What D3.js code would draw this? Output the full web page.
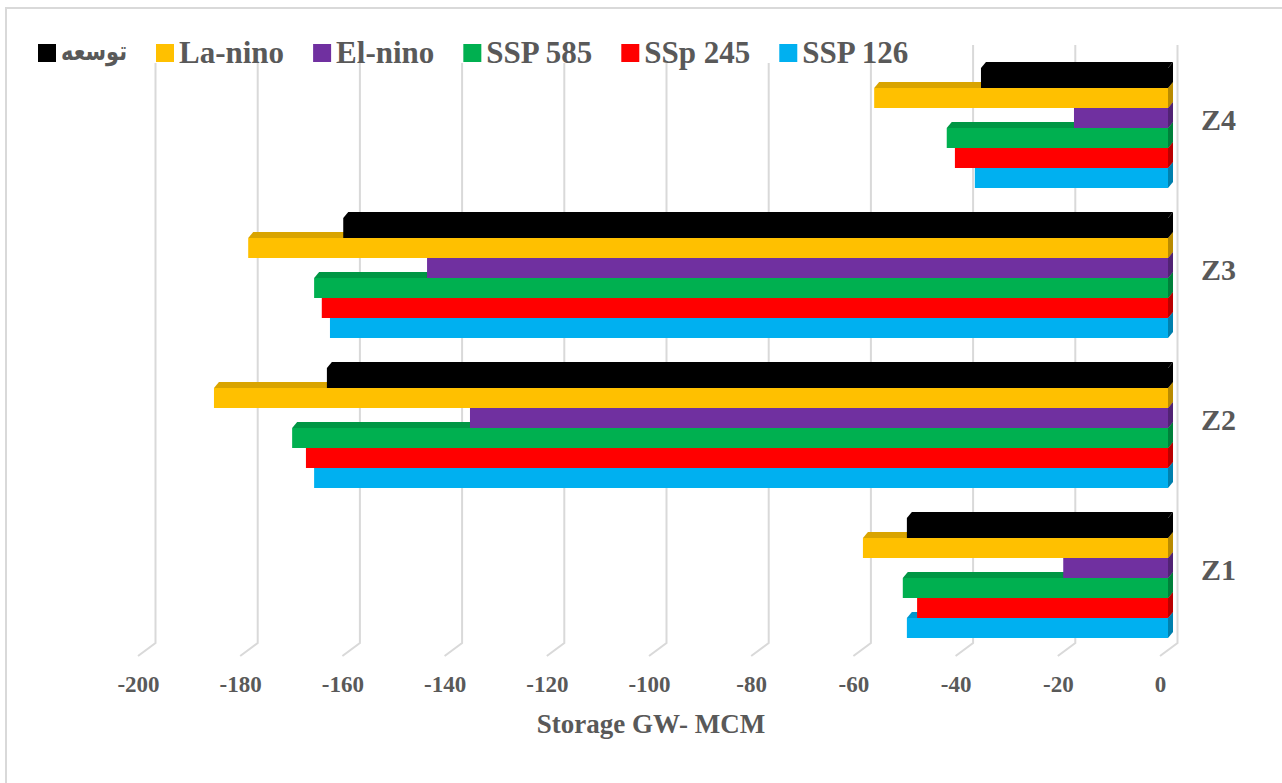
<!DOCTYPE html>
<html>
<head>
<meta charset="utf-8">
<script src="https://cdn.jsdelivr.net/npm/d3@7"></script>
<style>
  body { margin: 0; background: #fff; }
  text { font-family: "Liberation Serif", "Times New Roman", "DejaVu Sans", serif; font-weight: bold; fill: #595959; }
</style>
</head>
<body>
<div id="chart"></div>
<script>
// zones, top of the chart is Z4
var categories = ["Z1", "Z2", "Z3", "Z4"];

// series in Excel order (first series drawn at the bottom of each group)
var seriesNames = ["SSP 126", "SSp 245", "SSP 585", "El-nino", "La-nino", "توسعه"];
var seriesColors = ["#00B0F0", "#FF0000", "#00B050", "#7030A0", "#FFC000", "#000000"];

// values per zone Z1..Z4
var ssp126 = [-51.1, -167.1, -164.0, -37.8];
var ssp245 = [-49.1, -168.7, -165.6, -41.7];
var ssp585 = [-51.9, -171.4, -167.1, -43.3];
var elnino = [-20.5, -136.6, -145.0, -18.4];
var lanino = [-59.7, -186.7, -180.0, -57.5];
var tosee  = [-51.1, -164.6, -161.4, -36.6];
var seriesValues = [ssp126, ssp245, ssp585, elnino, lanino, tosee];

var tickValues = [-200, -180, -160, -140, -120, -100, -80, -60, -40, -20, 0];
var axisTitle = "Storage GW- MCM";

var width = 1282, height = 783;

var svg = d3.select("#chart")
  .append("svg")
    .attr("width", width)
    .attr("height", height);

// chart border
svg.append("rect")
  .attr("x", 6).attr("y", 8)
  .attr("width", 1290).attr("height", 800)
  .attr("fill", "none")
  .attr("stroke", "#d9d9d9")
  .attr("stroke-width", 2);

// 3D: back wall, bar plane and front edge share the same slope
var xBack  = d3.scaleLinear().domain([-200, 0]).range([155.5, 1177.5]);
var xBar   = d3.scaleLinear().domain([-200, 0]).range([146, 1168]);
var xFront = d3.scaleLinear().domain([-200, 0]).range([138, 1160]);
var wallTop = 45, wallBottom = 643, floorFront = 656;
var depthX = 5, depthY = -6;

// gridlines on the back wall + floor diagonals
svg.append("g")
  .selectAll("path")
  .data(tickValues)
  .enter()
  .append("path")
    .attr("d", function(d) {
      return "M" + xBack(d) + "," + wallTop + "V" + wallBottom + "L" + xFront(d) + "," + floorFront;
    })
    .attr("fill", "none")
    .attr("stroke", "#d9d9d9")
    .attr("stroke-width", 2);

// Y: zones
var y = d3.scaleBand()
  .domain(categories.slice().reverse())
  .range([53, 653])
  .paddingInner(0.2)
  .paddingOuter(0.1);

var ySub = d3.scaleBand()
  .domain(seriesNames.slice().reverse())
  .range([0, y.bandwidth()]);

// bars: for each zone draw bottom series first so upper bars cover the top faces
categories.forEach(function(cat, ci) {
  var g = svg.append("g").attr("transform", "translate(0," + y(cat) + ")");
  seriesNames.forEach(function(name, si) {
    var v = seriesValues[si][ci];
    var col = d3.color(seriesColors[si]);
    var x0 = xBar(v), x1 = xBar(0);
    var y0 = ySub(name), h = ySub.bandwidth();
    var top = si === 5 ? col : col.darker(0.45);
    var side = si === 5 ? col : col.darker(0.9);

    // top face
    g.append("path")
      .attr("d", "M" + x0 + "," + y0 + "L" + (x0 + depthX) + "," + (y0 + depthY) +
                 "L" + (x1 + depthX) + "," + (y0 + depthY) + "L" + x1 + "," + y0 + "Z")
      .attr("fill", top);
    // end face at zero
    g.append("path")
      .attr("d", "M" + x1 + "," + y0 + "L" + (x1 + depthX) + "," + (y0 + depthY) +
                 "L" + (x1 + depthX) + "," + (y0 + h + depthY) + "L" + x1 + "," + (y0 + h) + "Z")
      .attr("fill", side);
    // front face
    g.append("rect")
      .attr("x", x0)
      .attr("y", y0)
      .attr("width", x1 - x0)
      .attr("height", h)
      .attr("fill", col);
  });
});

// zone labels
svg.append("g")
  .selectAll("text")
  .data(categories)
  .enter()
  .append("text")
    .attr("x", 1201)
    .attr("y", function(d) { return y(d) + y.bandwidth() / 2 + 2; })
    .attr("font-size", 30)
    .text(function(d) { return d; });

// X axis labels on the front edge
var ax = svg.append("g")
  .attr("transform", "translate(0,692)")
  .call(d3.axisBottom(xFront).tickValues(tickValues).tickSize(0).tickPadding(0)
    .tickFormat(function(d) { return String(d); }));
ax.select(".domain").remove();
ax.selectAll("text")
  .attr("y", 0).attr("dy", 0)
  .attr("font-size", 23)
  .attr("font-family", null)
  .attr("fill", null);
ax.attr("font-family", null).attr("font-size", null);

svg.append("text")
  .attr("x", 651)
  .attr("y", 733)
  .attr("text-anchor", "middle")
  .attr("font-size", 27)
  .text(axisTitle);

// legend, reversed series order from left to right
var legend = svg.append("g");
legend.append("rect")
  .attr("x", 30).attr("y", 36)
  .attr("width", 880).attr("height", 27)
  .attr("fill", "#fff");
var lx = 38;
seriesNames.slice().reverse().forEach(function(name) {
  var si = seriesNames.indexOf(name);
  var arabic = /[\u0600-\u06FF]/.test(name);
  legend.append("rect")
    .attr("x", lx).attr("y", 44)
    .attr("width", 18).attr("height", 18)
    .attr("fill", seriesColors[si]);
  var t = legend.append("text")
    .attr("x", lx + 23)
    .attr("y", arabic ? 60 : 63)
    .attr("font-size", arabic ? 26 : 31)
    .text(name);
  // the Arabic fallback font runs wide, squeeze it to the original width
  if (arabic) t.attr("textLength", 66).attr("lengthAdjust", "spacingAndGlyphs");
  lx = lx + 23 + t.node().getComputedTextLength() + 29;
});
</script>
</body>
</html>
